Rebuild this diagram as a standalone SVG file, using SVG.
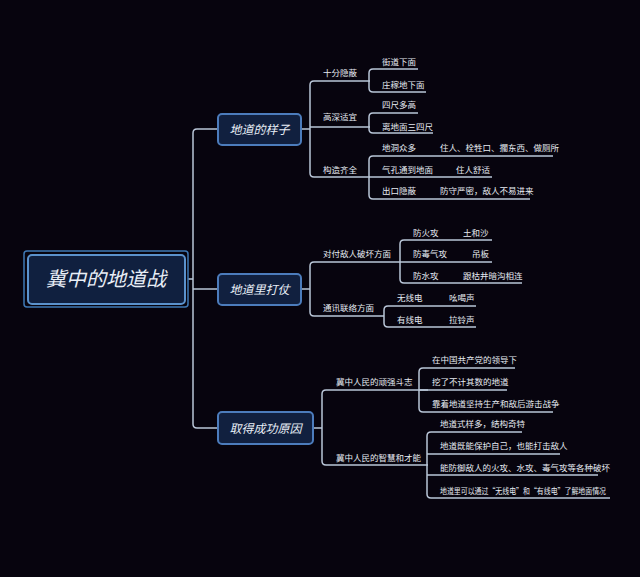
<svg xmlns="http://www.w3.org/2000/svg" width="640" height="577" viewBox="0 0 640 577">
<style>
.c{fill:none;stroke:#b9c6d8;stroke-width:1.5}
.t{font-family:"Noto Sans CJK SC",sans-serif;font-size:8.5px;fill:#e6ebf2}
.n{fill:#11203f;stroke:#4c7cbc;stroke-width:2}
.nt{font-family:"Noto Sans CJK SC",sans-serif;font-size:12px;font-style:italic;fill:#e8eef6;text-anchor:middle}
</style>
<rect width="640" height="577" fill="#07040e"/>
<g id="connectors">
<path class="c" d="M188 279 H193 M218 129 H197 Q193 129 193 133 V424 Q193 428 197 428 H218 M193 289 H218"/>
<path class="c" d="M301 129 H310 M370 81 H314 Q310 81 310 85 V173 Q310 177 314 177 H370 M310 127 H370"/>
<path class="c" d="M418 69 H373 Q369 69 369 73 V88 Q369 92 373 92 H426"/>
<path class="c" d="M418 113 H373 Q369 113 369 117 V129 Q369 133 373 133 H433"/>
<path class="c" d="M553 156 H373 Q369 156 369 160 V195 Q369 199 373 199 H530 M369 177 H492"/>
<path class="c" d="M301 289 H310 M400 262 H314 Q310 262 310 266 V312 Q310 316 314 316 H384"/>
<path class="c" d="M492 240 H404 Q400 240 400 244 V279 Q400 283 404 283 H522 M400 262 H492"/>
<path class="c" d="M476 306 H388 Q384 306 384 310 V323 Q384 327 388 327 H476"/>
<path class="c" d="M313 428 H322 M428 390 H326 Q322 390 322 394 V461 Q322 465 326 465 H428"/>
<path class="c" d="M515 368 H423 Q419 368 419 372 V408 Q419 412 423 412 H553 M419 390 H507"/>
<path class="c" d="M522 432 H431 Q427 432 427 436 V494 Q427 498 431 498 H610 M427 454 H560 M427 475 H598"/>
</g>
<g id="root">
<rect x="24" y="251" width="164" height="56" rx="3" fill="none" stroke="#3f78b4" stroke-width="1.5"/>
<rect x="28" y="255" width="157" height="49" rx="4" fill="#10203f" stroke="#5b92cc" stroke-width="2"/>
<text x="106" y="286" class="nt" style="font-size:20px">冀中的地道战</text>
</g>
<g id="n1"><rect class="n" x="218" y="114" width="83" height="31" rx="4"/><text x="259.5" y="133.5" class="nt">地道的样子</text></g>
<g id="n2"><rect class="n" x="218" y="274" width="83" height="31" rx="4"/><text x="259.5" y="293.5" class="nt">地道里打仗</text></g>
<g id="n3"><rect class="n" x="218" y="412" width="95" height="32" rx="4"/><text x="265.5" y="432.5" class="nt">取得成功原因</text></g>
<g id="labels">
<text class="t" x="323" y="76">十分隐蔽</text>
<text class="t" x="382" y="65">街道下面</text>
<text class="t" x="382" y="88">庄稼地下面</text>
<text class="t" x="323" y="120">高深适宜</text>
<text class="t" x="382" y="108">四尺多高</text>
<text class="t" x="382" y="130">离地面三四尺</text>
<text class="t" x="323" y="173">构造齐全</text>
<text class="t" x="382" y="151">地洞众多</text>
<text class="t" x="440" y="151">住人、栓牲口、擱东西、做厕所</text>
<text class="t" x="382" y="173">气孔通到地面</text>
<text class="t" x="456" y="173">住人舒适</text>
<text class="t" x="382" y="194">出口隐蔽</text>
<text class="t" x="440" y="194">防守严密，敌人不易进来</text>
<text class="t" x="323" y="257">对付敌人破坏方面</text>
<text class="t" x="413" y="236">防火攻</text>
<text class="t" x="463" y="236">土和沙</text>
<text class="t" x="413" y="257">防毒气攻</text>
<text class="t" x="472" y="257">吊板</text>
<text class="t" x="413" y="279">防水攻</text>
<text class="t" x="463" y="279">跟枯井暗沟相连</text>
<text class="t" x="323" y="311">通讯联络方面</text>
<text class="t" x="397" y="301">无线电</text>
<text class="t" x="449" y="301">吆喝声</text>
<text class="t" x="397" y="323">有线电</text>
<text class="t" x="449" y="323">拉铃声</text>
<text class="t" x="336" y="385">冀中人民的顽强斗志</text>
<text class="t" x="432" y="363">在中国共产党的领导下</text>
<text class="t" x="432" y="385">挖了不计其数的地道</text>
<text class="t" x="432" y="407">靠着地道坚持生产和敌后游击战争</text>
<text class="t" x="336" y="461">冀中人民的智慧和才能</text>
<text class="t" x="440" y="427">地道式样多，结构奇特</text>
<text class="t" x="440" y="449">地道既能保护自己，也能打击敌人</text>
<text class="t" x="440" y="471">能防御敌人的火攻、水攻、毒气攻等各种破坏</text>
<text class="t" x="440" y="494" textLength="166" lengthAdjust="spacingAndGlyphs">地道里可以通过“无线电”和“有线电”了解地面情况</text>
</g>
</svg>
